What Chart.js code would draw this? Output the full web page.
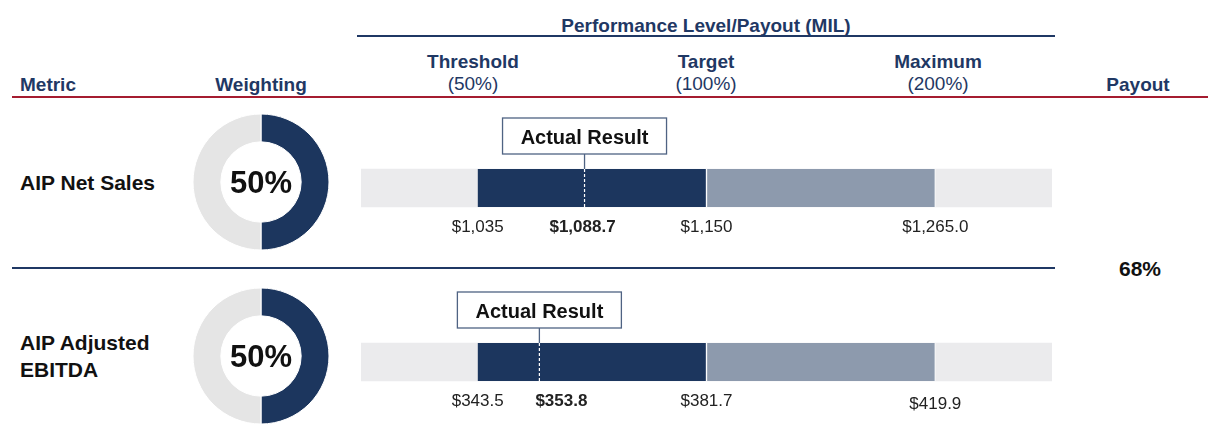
<!DOCTYPE html>
<html>
<head>
<meta charset="utf-8">
<title>AIP Performance</title>
<script src="https://cdn.jsdelivr.net/npm/chart.js@4/dist/chart.umd.min.js"></script>
<style>
  html, body { margin: 0; padding: 0; background: #fff; }
  #stage {
    position: relative; width: 1208px; height: 428px; overflow: hidden;
    font-family: "Liberation Sans", Arial, Helvetica, sans-serif;
  }
  .t { position: absolute; white-space: nowrap; line-height: 1; }
  .rule { position: absolute; height: 2px; }
  canvas { position: absolute; }
</style>
</head>
<body>
<div id="stage">
  <div class="rule" style="left:357px;top:35px;width:698px;background:#1f3864"></div>
  <div class="rule" style="left:12px;top:96px;width:1196px;background:#a51c30"></div>
  <div class="rule" style="left:12px;top:267px;width:1043px;background:#1f3864"></div>

  <canvas id="donut0" width="150" height="150" style="left:186px;top:107px"></canvas>
  <canvas id="donut1" width="150" height="150" style="left:186px;top:281px"></canvas>
  <canvas id="range0" width="740" height="135" style="left:340px;top:110px"></canvas>
  <canvas id="range1" width="740" height="135" style="left:340px;top:284px"></canvas>
</div>

<script>
// ---- data ----
const metricNames = [['AIP Net Sales'], ['AIP Adjusted', 'EBITDA']];
const weightings = [50, 50];
const levelNames = ['Threshold', 'Target', 'Maximum'];
const levelPayouts = ['(50%)', '(100%)', '(200%)'];
const thresholdValues = [1035, 343.5];
const targetValues = [1150, 381.7];
const maximumValues = [1265.0, 419.9];
const actualValues = [1088.7, 353.8];
const thresholdLabels = ['$1,035', '$343.5'];
const targetLabels = ['$1,150', '$381.7'];
const maximumLabels = ['$1,265.0', '$419.9'];
const actualLabels = ['$1,088.7', '$353.8'];
const totalPayout = '68%';

// ---- style ----
const FONT = '"Liberation Sans", Arial, Helvetica, sans-serif';
const HEAD = '#1f3864';
const NAVY = '#1c365e';
const SLATE = '#8d9aad';
const TRACK = '#ebebed';
const RING = '#e5e5e5';
const BOX_LINE = '#4f6383';
const INK = '#111111';
const TRACK_PAD = 0.51;   // track extends past threshold / maximum, in level units

const stage = document.getElementById('stage');

function addText(str, x, baseline, size, weight, color, center) {
  const d = document.createElement('div');
  d.className = 't';
  d.textContent = str;
  d.style.fontSize = size + 'px';
  d.style.fontWeight = weight;
  d.style.color = color;
  d.style.top = (baseline - 0.8465 * size) + 'px';
  d.style.left = x + 'px';
  if (center) d.style.transform = 'translateX(-50%)';
  stage.appendChild(d);
}

// column headers
addText('Performance Level/Payout (MIL)', 706, 32, 19, 'bold', HEAD, true);
addText('Metric', 20, 91, 19, 'bold', HEAD, false);
addText('Weighting', 261, 91, 19, 'bold', HEAD, true);
addText('Payout', 1138, 91, 19, 'bold', HEAD, true);
const levelCenters = [473, 706, 938];
levelNames.forEach((n, i) => {
  addText(n, levelCenters[i], 68, 19, 'bold', HEAD, true);
  addText(levelPayouts[i], levelCenters[i], 90, 19, 'normal', HEAD, true);
});

// metric names
const nameBaselines = [[190], [350, 377]];
metricNames.forEach((lines, r) => {
  lines.forEach((ln, k) => addText(ln, 20, nameBaselines[r][k], 21, 'bold', INK, false));
});
addText(totalPayout, 1140, 276, 21, 'bold', INK, true);

// position of a result on the threshold(0) / target(1) / maximum(2) scale
function levelPosition(r, v) {
  const th = thresholdValues[r], tg = targetValues[r], mx = maximumValues[r];
  if (v <= tg) return (v - th) / (tg - th);
  return 1 + (v - tg) / (mx - tg);
}

// weighting rings
const ringLabel = {
  id: 'ringLabel',
  afterDraw(chart) {
    const arc = chart.getDatasetMeta(0).data[0];
    const ctx = chart.ctx;
    ctx.save();
    ctx.font = 'bold 31px ' + FONT;
    ctx.fillStyle = INK;
    ctx.textAlign = 'center';
    ctx.textBaseline = 'alphabetic';
    ctx.fillText(chart.data.datasets[0].data[0] + '%', arc.x, arc.y + 11);
    ctx.restore();
  }
};

weightings.forEach((w, r) => {
  new Chart(document.getElementById('donut' + r), {
    type: 'doughnut',
    data: {
      labels: ['Weight', 'Other'],
      datasets: [{
        data: [w, 100 - w],
        backgroundColor: [NAVY, RING],
        borderColor: '#ffffff',
        borderWidth: 1
      }]
    },
    options: {
      responsive: false,
      animation: false,
      radius: 68,
      cutout: 44,
      rotation: 0,
      layout: { padding: 0 },
      plugins: { legend: { display: false }, tooltip: { enabled: false } }
    },
    plugins: [ringLabel]
  });
});

// actual-result marker, callout box and value labels
const rangeMarks = {
  id: 'rangeMarks',
  afterDatasetsDraw(chart, args, opts) {
    const r = opts.row;
    const ctx = chart.ctx;
    const xs = chart.scales.x;
    const bar = chart.getDatasetMeta(0).data[0];
    const top = bar.y - bar.height / 2;
    const bottom = bar.y + bar.height / 2;
    const px = xs.getPixelForValue(levelPosition(r, actualValues[r]));

    ctx.save();
    // dashed marker inside the bar
    ctx.strokeStyle = '#ffffff';
    ctx.lineWidth = 1.2;
    ctx.setLineDash([3, 2]);
    ctx.beginPath();
    ctx.moveTo(px, top);
    ctx.lineTo(px, bottom);
    ctx.stroke();
    ctx.setLineDash([]);

    // callout box
    const bw = 164, bh = 36;
    const boxBottom = top - 15;
    const boxTop = boxBottom - bh;
    ctx.strokeStyle = BOX_LINE;
    ctx.lineWidth = 1.3;
    ctx.beginPath();
    ctx.moveTo(px, boxBottom);
    ctx.lineTo(px, top);
    ctx.stroke();
    ctx.fillStyle = '#ffffff';
    ctx.fillRect(px - bw / 2, boxTop, bw, bh);
    ctx.strokeRect(px - bw / 2, boxTop, bw, bh);
    ctx.fillStyle = INK;
    ctx.font = 'bold 20px ' + FONT;
    ctx.textAlign = 'center';
    ctx.textBaseline = 'alphabetic';
    ctx.fillText('Actual Result', px, boxTop + 26);

    // value labels
    const base = bottom + 25;
    ctx.fillStyle = '#222222';
    ctx.font = '17px ' + FONT;
    ctx.fillText(thresholdLabels[r], xs.getPixelForValue(0), base);
    ctx.fillText(targetLabels[r], xs.getPixelForValue(1), base);
    ctx.fillText(maximumLabels[r], xs.getPixelForValue(2), base + opts.maxDrop);
    ctx.font = 'bold 17px ' + FONT;
    ctx.fillText(actualLabels[r], px + opts.actualShift, base);
    ctx.restore();
  }
};

const labelTweaks = [{ actualShift: -2, maxDrop: 0 }, { actualShift: 22, maxDrop: 3 }];

actualValues.forEach((a, r) => {
  new Chart(document.getElementById('range' + r), {
    type: 'bar',
    data: {
      labels: [metricNames[r].join(' ')],
      datasets: [
        {
          label: 'Threshold to Target',
          data: [[0, 1]],
          backgroundColor: NAVY,
          borderColor: '#ffffff',
          borderWidth: { left: 0, right: 1, top: 0, bottom: 0 },
          borderSkipped: false,
          order: 1
        },
        {
          label: 'Target to Maximum',
          data: [[1, 2]],
          backgroundColor: SLATE,
          borderColor: '#ffffff',
          borderWidth: { left: 1, right: 1, top: 0, bottom: 0 },
          borderSkipped: false,
          order: 1
        },
        {
          label: 'Range',
          data: [[-TRACK_PAD, 2 + TRACK_PAD]],
          backgroundColor: TRACK,
          order: 2
        }
      ]
    },
    options: {
      indexAxis: 'y',
      responsive: false,
      animation: false,
      datasets: { bar: { grouped: false, barThickness: 38 } },
      layout: { padding: { left: 21, right: 28, top: 40, bottom: 19 } },
      scales: {
        x: { type: 'linear', min: -TRACK_PAD, max: 2 + TRACK_PAD, display: false },
        y: { display: false }
      },
      plugins: {
        legend: { display: false },
        tooltip: { enabled: false },
        rangeMarks: Object.assign({ row: r }, labelTweaks[r])
      }
    },
    plugins: [rangeMarks]
  });
});
</script>
</body>
</html>
